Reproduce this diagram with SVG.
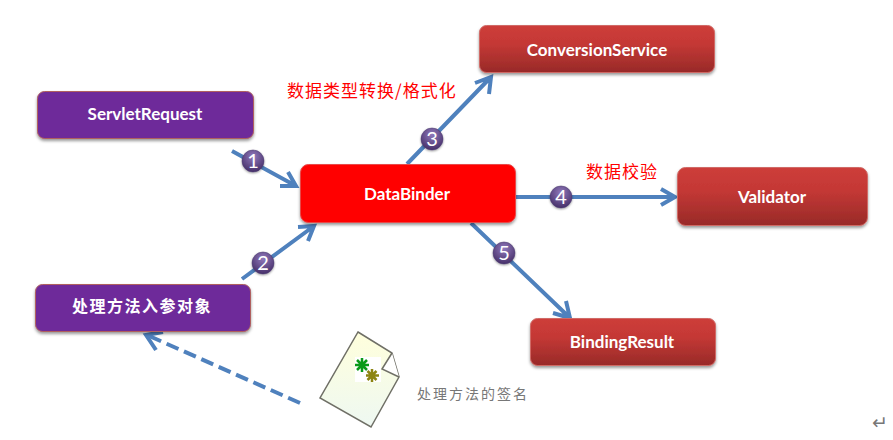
<svg xmlns="http://www.w3.org/2000/svg" width="893" height="440" viewBox="0 0 893 440">
<style>
.box{stroke-width:1;filter:url(#sh)}
.purple{fill:#6e2c9a;stroke:#b0605f}
.dark{fill:url(#redg);stroke:#d06a66}
.bright{fill:#ff0000;stroke:#e84848}
.lab{font-family:Lato,"Liberation Sans",sans-serif;font-weight:700;font-size:17px;fill:#fff;text-anchor:middle}
.cjkw{font-family:"Noto Sans CJK SC",serif;font-weight:700;font-size:16px;fill:#fff;text-anchor:middle;letter-spacing:1.500px}
.red{font-family:"Noto Sans CJK SC",sans-serif;font-size:17px;fill:#ff0000;letter-spacing:1px}
.gray{font-family:"Noto Sans CJK SC",sans-serif;font-size:14px;fill:#777;letter-spacing:2px}
.ln{fill:none;stroke:#4f81bd;stroke-width:4}
.num{fill:url(#ball);stroke:#4a3a70;stroke-width:.5;filter:url(#sh2)}
.nt{font-family:Lato,"Liberation Sans",sans-serif;font-size:20px;fill:#fff;text-anchor:middle}
</style>
<defs>
<linearGradient id="redg" x1="0" y1="0" x2="0" y2="1"><stop offset="0" stop-color="#cd3d3a"/><stop offset=".4" stop-color="#c43835"/><stop offset="1" stop-color="#982a28"/></linearGradient>
<radialGradient id="ball" cx=".5" cy=".3" r=".75"><stop offset="0" stop-color="#9079bb"/><stop offset="1" stop-color="#412a63"/></radialGradient>
<linearGradient id="paper" x1="0" y1="0" x2="0" y2="1"><stop offset="0" stop-color="#ffffdc"/><stop offset="1" stop-color="#eef8f2"/></linearGradient>
<filter id="sh" x="-5%" y="-15%" width="110%" height="135%"><feDropShadow dx="0" dy="2" stdDeviation="1.500" flood-color="#000" flood-opacity=".4"/></filter>
<filter id="sh2" x="-30%" y="-30%" width="160%" height="160%"><feDropShadow dx="0" dy="1" stdDeviation="1" flood-color="#000" flood-opacity=".4"/></filter>
</defs>
<rect width="893" height="440" fill="#fff"/>
<g id="connectors">
<path class="ln" d="M232 151L296 186M280 186H296L288 172"/>
<path class="ln" d="M242 279L314 226M298 227L314 226L308 241"/>
<path class="ln" d="M407 164L490 78M475 83L491 77L489 94"/>
<path class="ln" d="M516 197H675M661 189L675 197L661 205"/>
<path class="ln" d="M471 223L569 317M553 313L570 318L566 301"/>
<path class="ln" d="M300 403L147 335" stroke-dasharray="13 6"/>
<path class="ln" d="M156 350L146 335L163 332"/>
</g>
<g id="servletrequest"><rect class="box purple" x="37.500" y="91.500" width="216" height="47" rx="7"/><text class="lab" x="145" y="120">ServletRequest</text></g>
<g id="conversionservice"><rect class="box dark" x="479.500" y="25.500" width="235" height="47" rx="7"/><text class="lab" x="597" y="56">ConversionService</text></g>
<g id="databinder"><rect class="box bright" x="300.500" y="164.500" width="215" height="58" rx="8"/><text class="lab" x="407" y="200">DataBinder</text></g>
<g id="validator"><rect class="box dark" x="677.500" y="167.500" width="190" height="58" rx="8"/><text class="lab" x="772" y="203">Validator</text></g>
<g id="bindingresult"><rect class="box dark" x="530.500" y="318.500" width="185" height="47" rx="7"/><text class="lab" x="622" y="348">BindingResult</text></g>
<g id="method-arg"><rect class="box purple" x="35.500" y="284.500" width="215" height="47" rx="7"/><text class="cjkw" x="142" y="312">处理方法入参对象</text></g>
<g id="signature">
<path d="M358 332L392 353L399 377L371 427L320 398Z" fill="url(#paper)" stroke="#6f6f66" stroke-width="1.500"/>
<path d="M392 353L382 369L399 377" fill="#fff" stroke="#6f6f66" stroke-width="1.500"/>
<rect x="355" y="357" width="26" height="25" fill="#fff"/>
<path d="M362 358V372M355 365H369M357 360L367 370M367 360L357 370" stroke="#0a9a1a" stroke-width="2.500"/>
<path d="M372 369V382M366 375.500H379M367.500 371L376.500 380M376.500 371L367.500 380" stroke="#8c8412" stroke-width="2.500"/>
<text class="gray" x="417" y="399">处理方法的签名</text>
</g>
<g id="badges">
<circle class="num" cx="253" cy="161" r="11"/><text class="nt" x="253" y="168">1</text>
<circle class="num" cx="263" cy="263" r="11"/><text class="nt" x="263" y="270">2</text>
<circle class="num" cx="432" cy="139" r="11"/><text class="nt" x="432" y="146">3</text>
<circle class="num" cx="561" cy="197" r="11"/><text class="nt" x="561" y="204">4</text>
<circle class="num" cx="504" cy="253" r="11"/><text class="nt" x="504" y="260">5</text>
</g>
<text class="red" x="287" y="97">数据类型转换/格式化</text>
<text class="red" x="586" y="178">数据校验</text>
<text x="872" y="429" font-family="DejaVu Sans,sans-serif" font-size="19" fill="#777">↵</text>
</svg>
